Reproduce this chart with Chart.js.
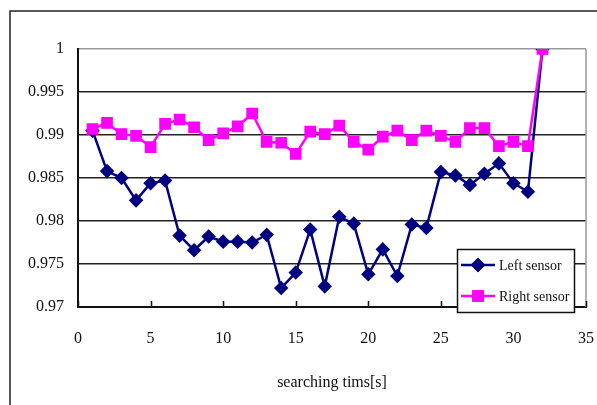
<!DOCTYPE html>
<html>
<head>
<meta charset="utf-8">
<script src="https://cdn.jsdelivr.net/npm/chart.js@4.4.1/dist/chart.umd.min.js"></script>
<style>
  html, body { margin: 0; padding: 0; background: #fff; }
  canvas { display: block; }
</style>
</head>
<body>
<canvas id="chart" width="597" height="405"></canvas>
<script>
// searching time (s)
const times = [1, 2, 3, 4, 5, 6, 7, 8, 9, 10, 11, 12, 13, 14, 15, 16,
               17, 18, 19, 20, 21, 22, 23, 24, 25, 26, 27, 28, 29, 30, 31, 32];

const leftSensor = [0.9905, 0.9858, 0.9850, 0.9824, 0.9844, 0.9847, 0.9783, 0.9766,
                    0.9782, 0.9776, 0.9776, 0.9775, 0.9784, 0.9722, 0.9740, 0.9790,
                    0.9724, 0.9805, 0.9797, 0.9738, 0.9767, 0.9736, 0.9796, 0.9792,
                    0.9857, 0.9853, 0.9842, 0.9855, 0.9867, 0.9844, 0.9834, 1.0000];

const rightSensor = [0.9907, 0.9914, 0.9901, 0.9899, 0.9886, 0.9913, 0.9918, 0.9909,
                     0.9894, 0.9902, 0.9910, 0.9925, 0.9892, 0.9891, 0.9878, 0.9904,
                     0.9901, 0.9911, 0.9892, 0.9883, 0.9898, 0.9905, 0.9894, 0.9905,
                     0.9899, 0.9892, 0.9908, 0.9908, 0.9887, 0.9892, 0.9887, 1.0000];

const xTicks = [0, 5, 10, 15, 20, 25, 30, 35];
const yTicks = [0.97, 0.975, 0.98, 0.985, 0.99, 0.995, 1];
const yTickLabels = ["0.97", "0.975", "0.98", "0.985", "0.99", "0.995", "1"];

const FONT = "'Liberation Serif', 'Times New Roman', serif";

function toPoints(xs, ys) {
    return xs.map((x, i) => ({ x: x, y: ys[i] }));
}

// frame, inner ticks, plot border and the legend box
const decorPlugin = {
    id: "decor",
    beforeDraw(chart) {
        const ctx = chart.ctx;
        ctx.save();
        ctx.fillStyle = "#fff";
        ctx.fillRect(0, 0, chart.width, chart.height);
        // outer frame (only left + top are visible in the picture)
        ctx.strokeStyle = "#222";
        ctx.lineWidth = 1.5;
        ctx.beginPath();
        ctx.moveTo(10, chart.height);
        ctx.lineTo(10, 11);
        ctx.lineTo(chart.width, 11);
        ctx.stroke();
        ctx.restore();
    },
    afterDraw(chart) {
        const ctx = chart.ctx;
        const a = chart.chartArea;
        const xs = chart.scales.x;

        ctx.save();
        // right border of plot area
        ctx.strokeStyle = "#999";
        ctx.lineWidth = 1.5;
        ctx.beginPath();
        ctx.moveTo(a.right, a.top);
        ctx.lineTo(a.right, a.bottom);
        ctx.stroke();

        // tick marks pointing up into the plot
        ctx.strokeStyle = "#111";
        ctx.lineWidth = 1.5;
        ctx.beginPath();
        xTicks.forEach(v => {
            const px = Math.round(xs.getPixelForValue(v)) + 0.5;
            ctx.moveTo(px, a.bottom - 6);
            ctx.lineTo(px, a.bottom);
        });
        ctx.stroke();

        // legend
        const bx = 457, by = 249, bw = 117, bh = 63;
        ctx.fillStyle = "#fff";
        ctx.fillRect(bx, by, bw, bh);
        ctx.strokeStyle = "#111";
        ctx.lineWidth = 1.5;
        ctx.strokeRect(bx + 0.5, by + 0.5, bw, bh);

        const rows = [chart.data.datasets[0], chart.data.datasets[1]];
        rows.forEach((ds, i) => {
            const y = 265 + i * 31;
            ctx.strokeStyle = ds.borderColor;
            ctx.lineWidth = 2.5;
            ctx.beginPath();
            ctx.moveTo(461, y);
            ctx.lineTo(495, y);
            ctx.stroke();
            Chart.helpers.drawPoint(ctx, {
                pointStyle: ds.pointStyle,
                radius: ds.pointRadius,
                borderWidth: 1,
                rotation: 0
            }, 478, y);
            ctx.fillStyle = ds.pointBackgroundColor;
            ctx.strokeStyle = ds.pointBorderColor;
            ctx.fill();
            ctx.stroke();

            ctx.fillStyle = "#111";
            ctx.font = "14px " + FONT;
            ctx.textBaseline = "middle";
            ctx.textAlign = "left";
            ctx.fillText(ds.label, 499, y + 1);
        });
        ctx.restore();
    }
};

new Chart(document.getElementById("chart"), {
    type: "line",
    data: {
        datasets: [
            {
                label: "Left sensor",
                data: toPoints(times, leftSensor),
                borderColor: "#000080",
                backgroundColor: "#000080",
                pointBackgroundColor: "#000080",
                pointBorderColor: "#000080",
                pointStyle: "rectRot",
                pointRadius: 5.5,
                borderWidth: 2.5,
                tension: 0,
                order: 1
            },
            {
                label: "Right sensor",
                data: toPoints(times, rightSensor),
                borderColor: "#ff00ff",
                backgroundColor: "#ff00ff",
                pointBackgroundColor: "#ff00ff",
                pointBorderColor: "#ff00ff",
                pointStyle: "rect",
                pointRadius: 6.5,
                borderWidth: 2.5,
                tension: 0,
                order: 0
            }
        ]
    },
    options: {
        responsive: false,
        animation: false,
        devicePixelRatio: 1,
        layout: { padding: { left: 0, top: 49, right: 11, bottom: 0 } },
        plugins: {
            legend: { display: false },
            tooltip: { enabled: false }
        },
        scales: {
            x: {
                type: "linear",
                min: 0,
                max: 35,
                afterBuildTicks: (scale) => { scale.ticks = xTicks.map(v => ({ value: v })); },
                afterFit: (scale) => {
                    scale.height = 98;
                    scale.paddingLeft = 0;
                    scale.paddingRight = 0;
                },
                ticks: {
                    color: "#111",
                    font: { family: FONT, size: 16 },
                    padding: 22,
                    maxRotation: 0
                },
                grid: { display: true, drawOnChartArea: false, drawTicks: false },
                border: { display: true, color: "#111", width: 2 },
                title: {
                    display: true,
                    text: "searching tims[s]",
                    color: "#111",
                    font: { family: FONT, size: 16 },
                    padding: { top: 0, bottom: 13 }
                }
            },
            y: {
                min: 0.97,
                max: 1,
                afterBuildTicks: (scale) => { scale.ticks = yTicks.map(v => ({ value: v })); },
                afterFit: (scale) => { scale.width = 78; },
                ticks: {
                    color: "#111",
                    font: { family: FONT, size: 16 },
                    padding: 14,
                    callback: (v) => yTickLabels[yTicks.findIndex(t => Math.abs(t - v) < 1e-9)]
                },
                grid: {
                    drawTicks: false,
                    lineWidth: 1.5,
                    color: (c) => (c.tick && c.tick.value === 1 ? "#999" : "#222")
                },
                border: { display: true, color: "#111", width: 2 }
            }
        }
    },
    plugins: [decorPlugin]
});
</script>
</body>
</html>
